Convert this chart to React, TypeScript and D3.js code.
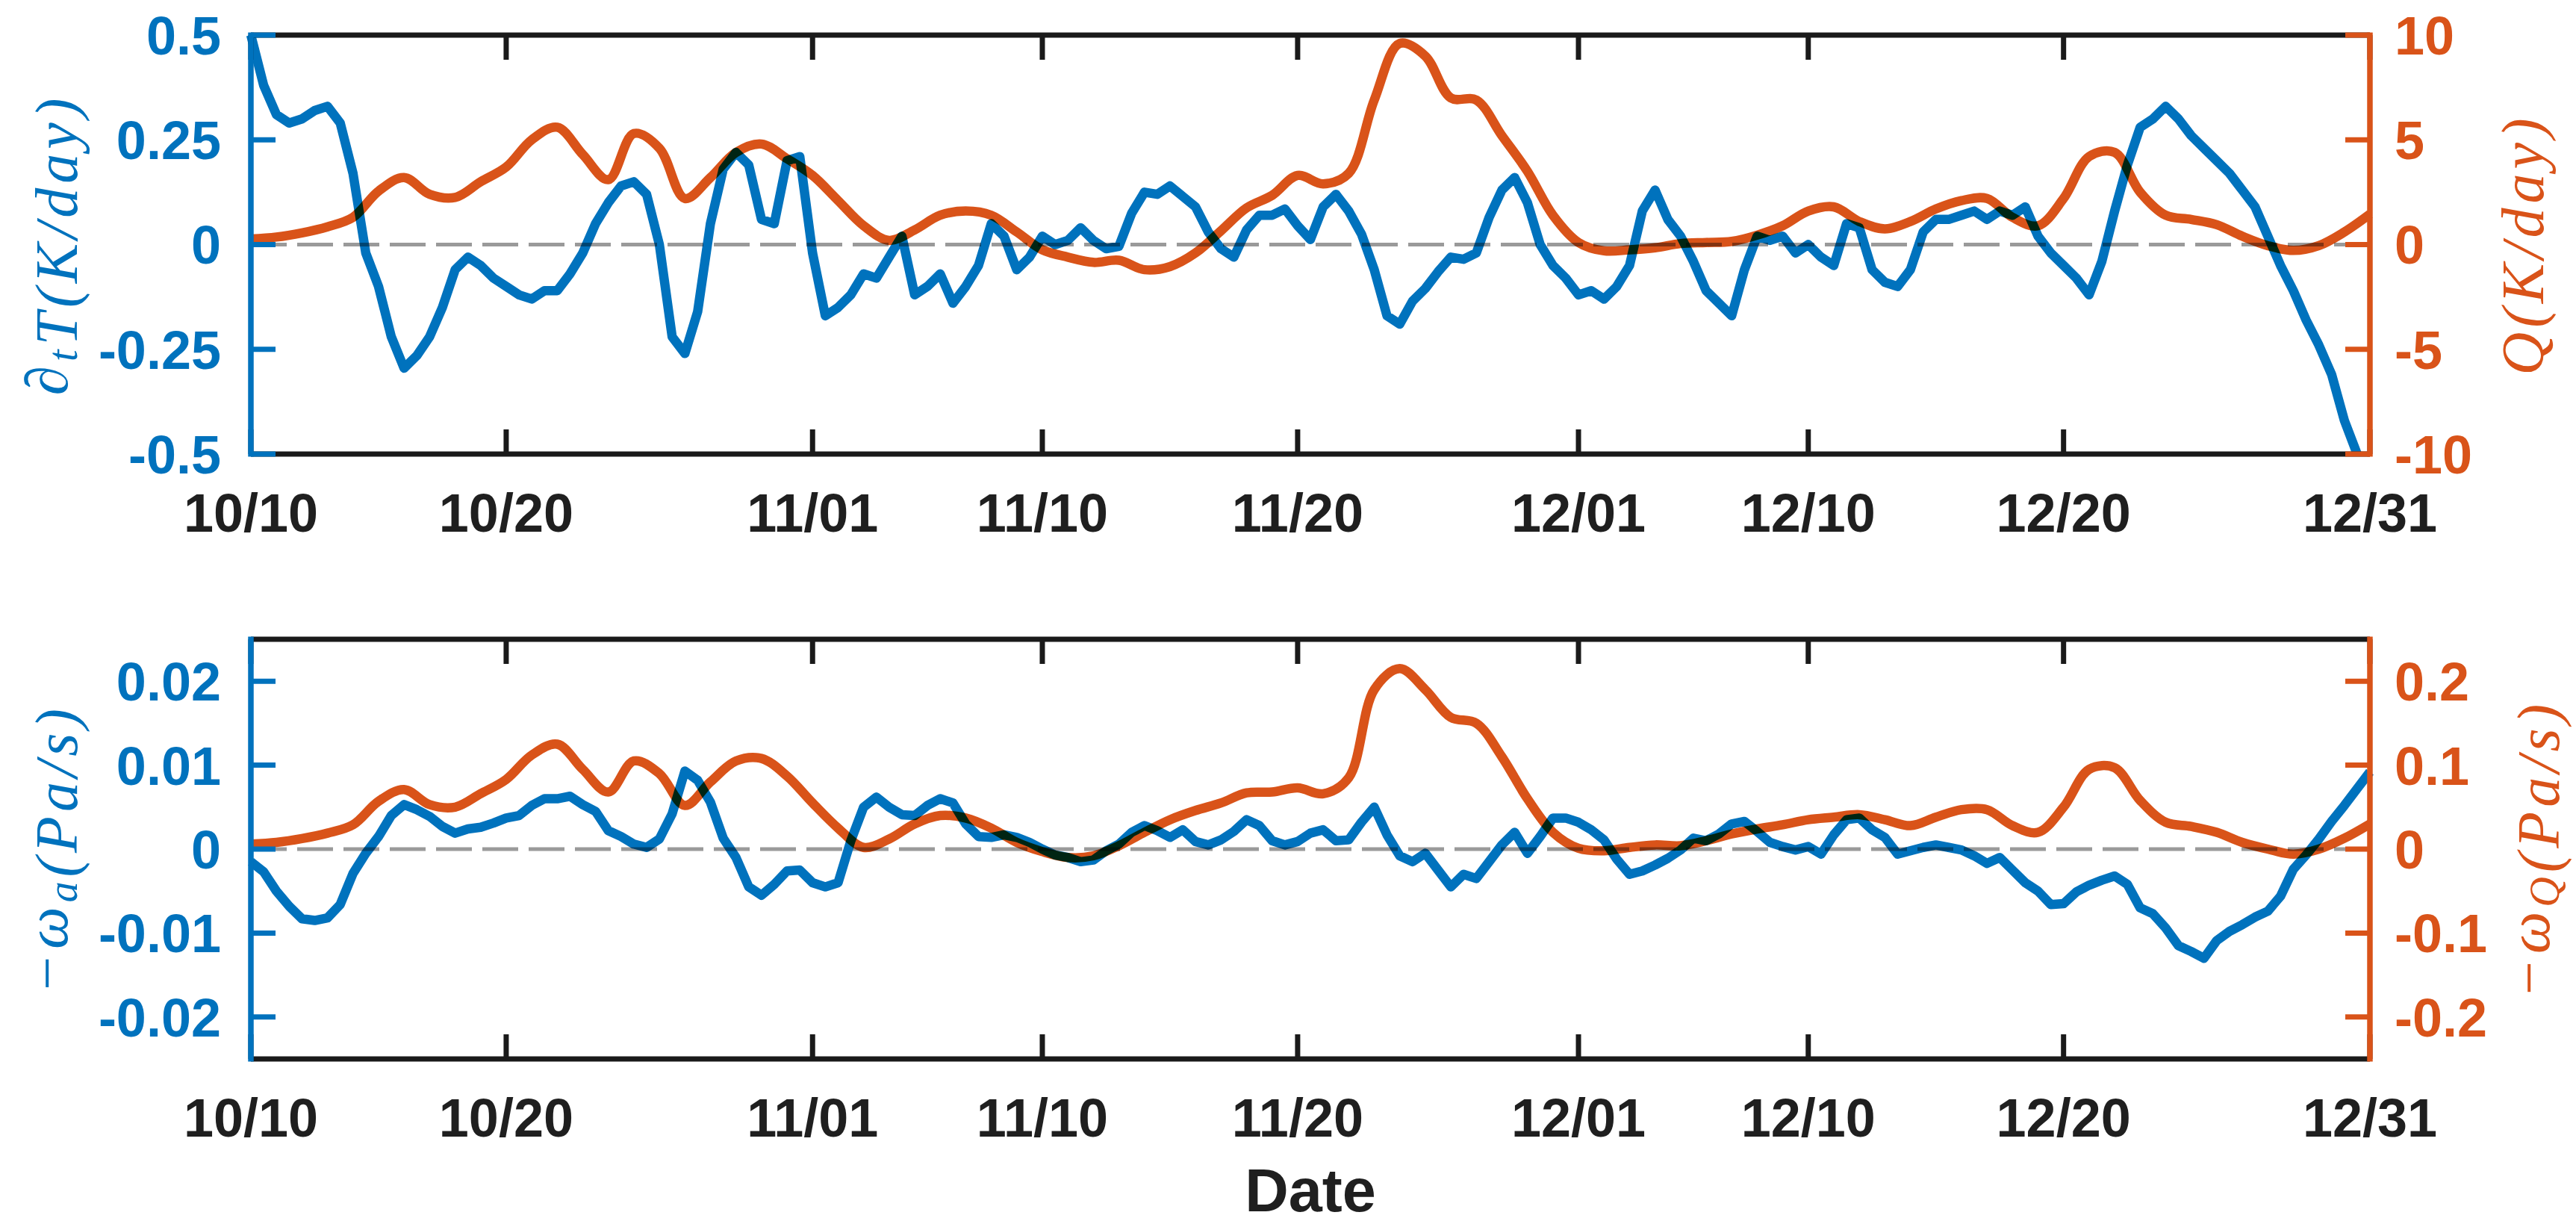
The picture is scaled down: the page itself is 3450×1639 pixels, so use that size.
import React, { useEffect, useRef } from 'react';
import * as d3 from 'd3';

const W = 3450;
const H = 1639;
const BLUE = '#0072BD';
const ORANGE = '#D95319';

// x axis in days after 10/10; the right edge is the end of 12/31
const tickDays = [0, 10, 22, 31, 41, 52, 61, 71, 83];
const tickLabels = ['10/10', '10/20', '11/01', '11/10', '11/20', '12/01', '12/10', '12/20', '12/31'];

const topLeftTicks = [-0.5, -0.25, 0, 0.25, 0.5];
const topLeftLabels = ['-0.5', '-0.25', '0', '0.25', '0.5'];
const topRightTicks = [-10, -5, 0, 5, 10];
const topRightLabels = ['-10', '-5', '0', '5', '10'];
const botLeftTicks = [-0.02, -0.01, 0, 0.01, 0.02];
const botLeftLabels = ['-0.02', '-0.01', '0', '0.01', '0.02'];
const botRightTicks = [-0.2, -0.1, 0, 0.1, 0.2];
const botRightLabels = ['-0.2', '-0.1', '0', '0.1', '0.2'];

// dT/dt (K/day), every half day from 10/10
const dTdt = [
  0.50, 0.38, 0.31, 0.29, 0.30, 0.32, 0.33, 0.29, 0.17, -0.02,
  -0.10, -0.22, -0.295, -0.265, -0.22, -0.15, -0.06, -0.03, -0.05, -0.08,
  -0.10, -0.12, -0.13, -0.11, -0.11, -0.07, -0.02, 0.05, 0.10, 0.14,
  0.15, 0.12, 0.00, -0.22, -0.26, -0.16, 0.05, 0.18, 0.22, 0.19,
  0.06, 0.05, 0.20, 0.21, -0.02, -0.17, -0.15, -0.12, -0.07, -0.08,
  -0.03, 0.02, -0.12, -0.10, -0.07, -0.14, -0.10, -0.05, 0.05, 0.02,
  -0.06, -0.03, 0.02, 0.00, 0.01, 0.04, 0.01, -0.01, -0.004, 0.075,
  0.125, 0.12, 0.14, 0.115, 0.09, 0.03, -0.01, -0.03, 0.035, 0.07,
  0.07, 0.085, 0.045, 0.012, 0.09, 0.12, 0.08, 0.025, -0.06, -0.17,
  -0.19, -0.135, -0.105, -0.065, -0.03, -0.035, -0.02, 0.065, 0.13, 0.16,
  0.10, 0.0, -0.05, -0.08, -0.12, -0.11, -0.13, -0.10, -0.05, 0.08,
  0.13, 0.06, 0.02, -0.04, -0.11, -0.14, -0.17, -0.06, 0.02, 0.01,
  0.02, -0.02, 0.0, -0.03, -0.05, 0.05, 0.04, -0.06, -0.09, -0.10,
  -0.06, 0.03, 0.06, 0.06, 0.07, 0.08, 0.06, 0.08, 0.07, 0.09,
  0.02, -0.02, -0.05, -0.08, -0.12, -0.04, 0.08, 0.19, 0.28, 0.30,
  0.33, 0.30, 0.26, 0.23, 0.20, 0.17, 0.13, 0.09, 0.02, -0.05,
  -0.11, -0.18, -0.24, -0.31, -0.42, -0.50,
];

// Q (K/day), daily
const Q = [
  0.27, 0.36, 0.56, 0.85, 1.3, 2.55, 3.2, 2.4, 2.25, 3.0,
  3.7, 5.0, 5.6, 4.3, 3.1, 5.3, 4.6, 2.2, 3.2, 4.4,
  4.8, 4.1, 3.3, 2.1, 0.9, 0.2, 0.7, 1.4, 1.6, 1.4,
  0.6, -0.25, -0.6, -0.85, -0.75, -1.2, -1.05, -0.4, 0.66, 1.75,
  2.35, 3.3, 2.9, 3.4, 6.9, 9.6, 9.0, 7.0, 6.9, 5.2,
  3.5, 1.4, 0.1, -0.3, -0.25, -0.15, 0.05, 0.1, 0.15, 0.45,
  0.9, 1.6, 1.8, 1.1, 0.75, 1.1, 1.7, 2.1, 2.2, 1.3,
  0.9, 2.2, 4.2, 4.4, 2.5, 1.4, 1.2, 0.95, 0.4, -0.05,
  -0.28, -0.05, 0.6, 1.45,
];

// -omega_a (Pa/s), every half day
const omegaA = [
  -0.0015, -0.0027, -0.005, -0.0068, -0.0083, -0.0085, -0.0082, -0.0066, -0.0029, -0.0005,
  0.0015, 0.004, 0.0053, 0.0047, 0.0039, 0.0027, 0.0019, 0.0024, 0.0026, 0.0031,
  0.0037, 0.004, 0.0052, 0.006, 0.006, 0.0063, 0.0053, 0.0045, 0.0022, 0.0015,
  0.0006, 0.0002, 0.0012, 0.0042, 0.0093, 0.0082, 0.0056, 0.0013, -0.001, -0.0045,
  -0.0055, -0.0042, -0.0026, -0.0025, -0.004, -0.0045, -0.004, 0.001, 0.005, 0.0062,
  0.005, 0.0041, 0.004, 0.0052, 0.006, 0.0055, 0.003, 0.0015, 0.0014, 0.0017,
  0.0014, 0.0008, 0.0, -0.0007, -0.001, -0.0015, -0.0013, -0.0002, 0.0006, 0.002,
  0.0028, 0.0022, 0.0014, 0.0023, 0.0009, 0.0005, 0.0011, 0.0021, 0.0035, 0.0028,
  0.001, 0.0005, 0.0009, 0.0019, 0.0023, 0.001, 0.0011, 0.0032, 0.005, 0.0017,
  -0.0008, -0.0015, -0.0005, -0.0025, -0.0045, -0.003, -0.0035, -0.0015, 0.0005, 0.002,
  -0.0005, 0.0015, 0.0037, 0.0037, 0.0032, 0.0023, 0.0011, -0.0012, -0.003, -0.0026,
  -0.0019, -0.0011, -0.0001, 0.0013, 0.001, 0.0018, 0.003, 0.0033, 0.0021, 0.0008,
  0.0003, -0.0001, 0.0003, -0.0006, 0.0017, 0.0035, 0.0037, 0.0023, 0.0014, -0.0006,
  -0.0002, 0.0002, 0.0005, 0.0002, -0.0001, -0.0008, -0.0017, -0.001, -0.0025, -0.004,
  -0.005, -0.0066, -0.0065, -0.0051, -0.0043, -0.0037, -0.0032, -0.0042, -0.007, -0.0077,
  -0.0094, -0.0115, -0.0122, -0.013, -0.0109, -0.0098, -0.009, -0.0081, -0.0074, -0.0056,
  -0.0024, -0.0007, 0.0012, 0.0033, 0.0052, 0.0072, 0.0092,
];

// -omega_Q (Pa/s), daily
const omegaQ = [
  0.006, 0.008, 0.0125, 0.019, 0.029, 0.057, 0.071, 0.053, 0.05, 0.066,
  0.083, 0.112, 0.125, 0.095, 0.068, 0.105, 0.09, 0.052, 0.08, 0.105,
  0.108, 0.087, 0.055, 0.025, 0.002, 0.012, 0.03, 0.04, 0.037, 0.025,
  0.008, -0.003, -0.01, -0.008, 0.004, 0.02, 0.035, 0.046, 0.055, 0.067,
  0.068, 0.073, 0.066, 0.085, 0.19, 0.215, 0.19, 0.157, 0.15, 0.11,
  0.06, 0.02, 0.001, -0.002, 0.002, 0.005, 0.004, 0.01, 0.018, 0.024,
  0.029, 0.035, 0.038, 0.041, 0.035, 0.028, 0.038, 0.047, 0.047, 0.028,
  0.02, 0.05, 0.095, 0.097, 0.058, 0.032, 0.027, 0.02, 0.008, 0.0,
  -0.006, 0.0, 0.013, 0.03,
];

const X0 = 336;
const X1 = 3174;
const TICK = 33;
const FONT = '"Liberation Sans", Arial, Helvetica, sans-serif';
const MATH = '"Liberation Serif", "DejaVu Serif", serif';

function App() {
  const ref = useRef(null);

  useEffect(() => {
    document.body.style.margin = '0';
    const svg = d3.select(ref.current);
    svg.selectAll('*').remove();
    svg.append('rect').attr('width', W).attr('height', H).attr('fill', '#fff');

    const x = d3.scaleLinear().domain([0, 83]).range([X0, X1]);

    const panels = [
      {
        top: 47, bottom: 608,
        lDomain: [-0.5, 0.5], rDomain: [-10, 10],
        lTicks: topLeftTicks, lLabels: topLeftLabels,
        rTicks: topRightTicks, rLabels: topRightLabels,
        blue: dTdt, blueStep: 0.5, orange: Q, orangeStep: 1,
        lText: [['∂', false], ['t', true], ['T(K/day)', false]],
        rText: [['Q(K/day)', false]],
        lSpace: 6, rSpace: 6, fs: 80,
        rLabelX: 3406,
      },
      {
        top: 856, bottom: 1418,
        lDomain: [-0.025, 0.025], rDomain: [-0.25, 0.25],
        lTicks: botLeftTicks, lLabels: botLeftLabels,
        rTicks: botRightTicks, rLabels: botRightLabels,
        blue: omegaA, blueStep: 0.5, orange: omegaQ, orangeStep: 1,
        lText: [['−ω', false], ['a', true], ['(Pa/s)', false]],
        rText: [['−ω', false], ['Q', true], ['(Pa/s)', false]],
        lSpace: 6, rSpace: 6, fs: 80,
        rLabelX: 3414,
      },
    ];

    panels.forEach((p) => {
      const yL = d3.scaleLinear().domain(p.lDomain).range([p.bottom, p.top]);
      const yR = d3.scaleLinear().domain(p.rDomain).range([p.bottom, p.top]);
      const g = svg.append('g');

      // black frame lines with inward ticks
      g.append('line').attr('x1', X0).attr('x2', X1).attr('y1', p.top).attr('y2', p.top)
        .attr('stroke', '#1a1a1a').attr('stroke-width', 7);
      g.append('line').attr('x1', X0).attr('x2', X1).attr('y1', p.bottom).attr('y2', p.bottom)
        .attr('stroke', '#1a1a1a').attr('stroke-width', 7);
      tickDays.forEach((d) => {
        g.append('line').attr('x1', x(d)).attr('x2', x(d)).attr('y1', p.top).attr('y2', p.top + TICK)
          .attr('stroke', '#1a1a1a').attr('stroke-width', 7);
        g.append('line').attr('x1', x(d)).attr('x2', x(d)).attr('y1', p.bottom).attr('y2', p.bottom - TICK)
          .attr('stroke', '#1a1a1a').attr('stroke-width', 7);
      });

      // x tick labels
      g.selectAll('text.xt').data(tickDays).enter().append('text')
        .attr('x', (d) => x(d)).attr('y', p.bottom + 104)
        .attr('text-anchor', 'middle').attr('font-family', FONT).attr('font-weight', 'bold')
        .attr('font-size', 72).attr('fill', '#1f1f1f')
        .text((d, i) => tickLabels[i]);

      // zero line
      g.append('line').attr('x1', X0).attr('x2', X1).attr('y1', yL(0)).attr('y2', yL(0))
        .attr('stroke', '#9a9a9a').attr('stroke-width', 5).attr('stroke-dasharray', '48 14')
        .style('mix-blend-mode', 'multiply');

      const blueLine = d3.line().x((d) => x(d[0])).y((d) => yL(d[1])).curve(d3.curveLinear);
      const orangeLine = d3.line().x((d) => x(d[0])).y((d) => yR(d[1])).curve(d3.curveCatmullRom.alpha(0.5));

      g.append('path').datum(p.blue.map((v, i) => [i * p.blueStep, v]))
        .attr('d', blueLine).attr('fill', 'none').attr('stroke', BLUE).attr('stroke-width', 12.5)
        .attr('stroke-linejoin', 'round').style('mix-blend-mode', 'multiply');
      g.append('path').datum(p.orange.map((v, i) => [i * p.orangeStep, v]))
        .attr('d', orangeLine).attr('fill', 'none').attr('stroke', ORANGE).attr('stroke-width', 12.5)
        .attr('stroke-linejoin', 'round').style('mix-blend-mode', 'multiply');

      // left axis (blue)
      g.append('line').attr('x1', X0).attr('x2', X0).attr('y1', p.top - 3.5).attr('y2', p.bottom + 3.5)
        .attr('stroke', BLUE).attr('stroke-width', 7.5);
      p.lTicks.forEach((t, i) => {
        g.append('line').attr('x1', X0).attr('x2', X0 + TICK).attr('y1', yL(t)).attr('y2', yL(t))
          .attr('stroke', BLUE).attr('stroke-width', 7);
        g.append('text').attr('x', 296).attr('y', yL(t)).attr('dy', '0.36em')
          .attr('text-anchor', 'end').attr('font-family', FONT).attr('font-weight', 'bold')
          .attr('font-size', 72).attr('fill', BLUE).text(p.lLabels[i]);
      });

      // right axis (orange)
      g.append('line').attr('x1', X1).attr('x2', X1).attr('y1', p.top - 3.5).attr('y2', p.bottom + 3.5)
        .attr('stroke', ORANGE).attr('stroke-width', 7.5);
      p.rTicks.forEach((t, i) => {
        g.append('line').attr('x1', X1).attr('x2', X1 - TICK).attr('y1', yR(t)).attr('y2', yR(t))
          .attr('stroke', ORANGE).attr('stroke-width', 7);
        g.append('text').attr('x', 3207).attr('y', yR(t)).attr('dy', '0.36em')
          .attr('text-anchor', 'start').attr('font-family', FONT).attr('font-weight', 'bold')
          .attr('font-size', 72).attr('fill', ORANGE).text(p.rLabels[i]);
      });

      // axis labels, rotated, centred on the panel
      const cy = (p.top + p.bottom) / 2;
      const label = (lx, parts, color, spacing) => {
        const t = g.append('text')
          .attr('transform', `translate(${lx},${cy}) rotate(-90)`)
          .attr('text-anchor', 'middle').attr('font-family', MATH).attr('font-style', 'italic')
          .attr('font-size', p.fs).attr('letter-spacing', spacing).attr('fill', color);
        parts.forEach(([s, sub]) => {
          t.append('tspan').attr('font-size', sub ? p.fs * 0.7 : p.fs).attr('dy', sub ? 13 : 0).text(s);
          if (sub) t.append('tspan').attr('dy', -13).text('');
        });
      };
      label(90, p.lText, BLUE, p.lSpace);
      label(p.rLabelX, p.rText, ORANGE, p.rSpace);
    });

    svg.append('text').attr('x', (X0 + X1) / 2).attr('y', 1622)
      .attr('text-anchor', 'middle').attr('font-family', FONT).attr('font-weight', 'bold')
      .attr('font-size', 81).attr('fill', '#1f1f1f').text('Date');
  }, []);

  return <svg ref={ref} width={W} height={H} style={{ display: 'block' }} />;
}

export default App;
